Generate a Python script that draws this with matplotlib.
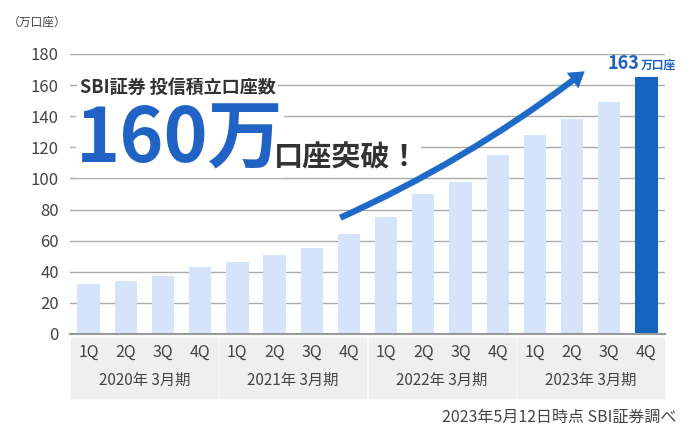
import matplotlib
matplotlib.use("Agg")
import matplotlib.pyplot as plt
from matplotlib.patches import Rectangle
import matplotlib.transforms as mtrans

plt.rcParams['font.family'] = ['Noto Sans CJK JP', 'DejaVu Sans']

quarters = ["1Q", "2Q", "3Q", "4Q"] * 4
years = ["2020年 3月期", "2021年 3月期", "2022年 3月期", "2023年 3月期"]
values = [32, 34, 37, 43, 46, 51, 55, 64, 75, 90, 98, 115, 128, 138, 149, 165]
last_label = "163"
yticks = list(range(0, 181, 20))

fig = plt.figure(figsize=(6.9, 4.4), dpi=100)
ax = fig.add_axes([70/690, 1-334/440, 595/690, 280/440])
x = list(range(len(values)))
colors = ["#d6e4fb"] * (len(values) - 1) + ["#1565c0"]
ax.bar(x, values, width=0.6, color=colors, zorder=2)
ax.set_xlim(-0.5, 15.5)
ax.set_ylim(0, 180)
ax.set_yticks(yticks)
ax.tick_params(axis='y', length=0, labelsize=12, labelcolor="#444444", pad=8)
ax.set_xticks([])
ax.grid(axis='y', color="#aaaaaa", lw=1, zorder=0)
for s in ["left", "right", "top"]:
    ax.spines[s].set_visible(False)
ax.spines["bottom"].set_color("#999999")
ax.spines["bottom"].set_linewidth(1.5)
ax.spines["bottom"].set_zorder(3)

tr = mtrans.blended_transform_factory(ax.transData, fig.transFigure)
for g in range(4):
    ax.add_patch(Rectangle((g*4 - 0.5 + 0.03, 1-398/440), 3.94, 60/440, transform=tr,
                           color="#efefef", clip_on=False, zorder=1))
    ax.text(g*4 + 1.5, 1-380/440, years[g], transform=tr, ha='center', va='center',
            fontsize=11, color="#444444", clip_on=False)
for i, q in enumerate(quarters):
    ax.text(i, 1-352/440, q, transform=tr, ha='center', va='center', fontsize=11.5,
            color="#444444", clip_on=False)

fig.text(8/690, 1-22/440, "（万口座）", fontsize=8.5, color="#444444", va='center')
fig.text(676/690, 1-417/440, "2023年5月12日時点 SBI証券調べ", fontsize=11.5, color="#444444",
         ha='right', va='center')

# arrow
ax.annotate("", xy=(13.4, 170), xytext=(6.7, 74),
            arrowprops=dict(arrowstyle="simple,head_length=1.1,head_width=1.4,tail_width=0.45",
                            connectionstyle="arc3,rad=0.06", color="#1e6ac8", lw=0),
            zorder=4)

# titles
fig.text(80/690, 1-87/440, "SBI証券 投信積立口座数", fontsize=13, fontweight='bold',
         color="#333333", va='center',
         bbox=dict(boxstyle="square,pad=0.15", fc="white", ec="none"), zorder=5)
fig.text(76/690, 1-140/440, "160万", fontsize=54, fontweight='bold', color="#2163c4",
         va='center', bbox=dict(boxstyle="square,pad=0.0", fc="white", ec="none"), zorder=5)
fig.text(274/690, 1-157/440, "口座突破！", fontsize=21, fontweight='bold', color="#333333",
         va='center', bbox=dict(boxstyle="square,pad=0.05", fc="white", ec="none"), zorder=5)

# last label
ax.text(13.95, 174, last_label, fontsize=13, fontweight='bold', color="#1e5fc0", ha='left',
        va='center', zorder=5)
ax.text(14.85, 173, "万口座", fontsize=8.5, fontweight='bold', color="#1e5fc0", ha='left',
        va='center', zorder=5, clip_on=False)

fig.savefig("out.png", dpi=100, facecolor="white")
